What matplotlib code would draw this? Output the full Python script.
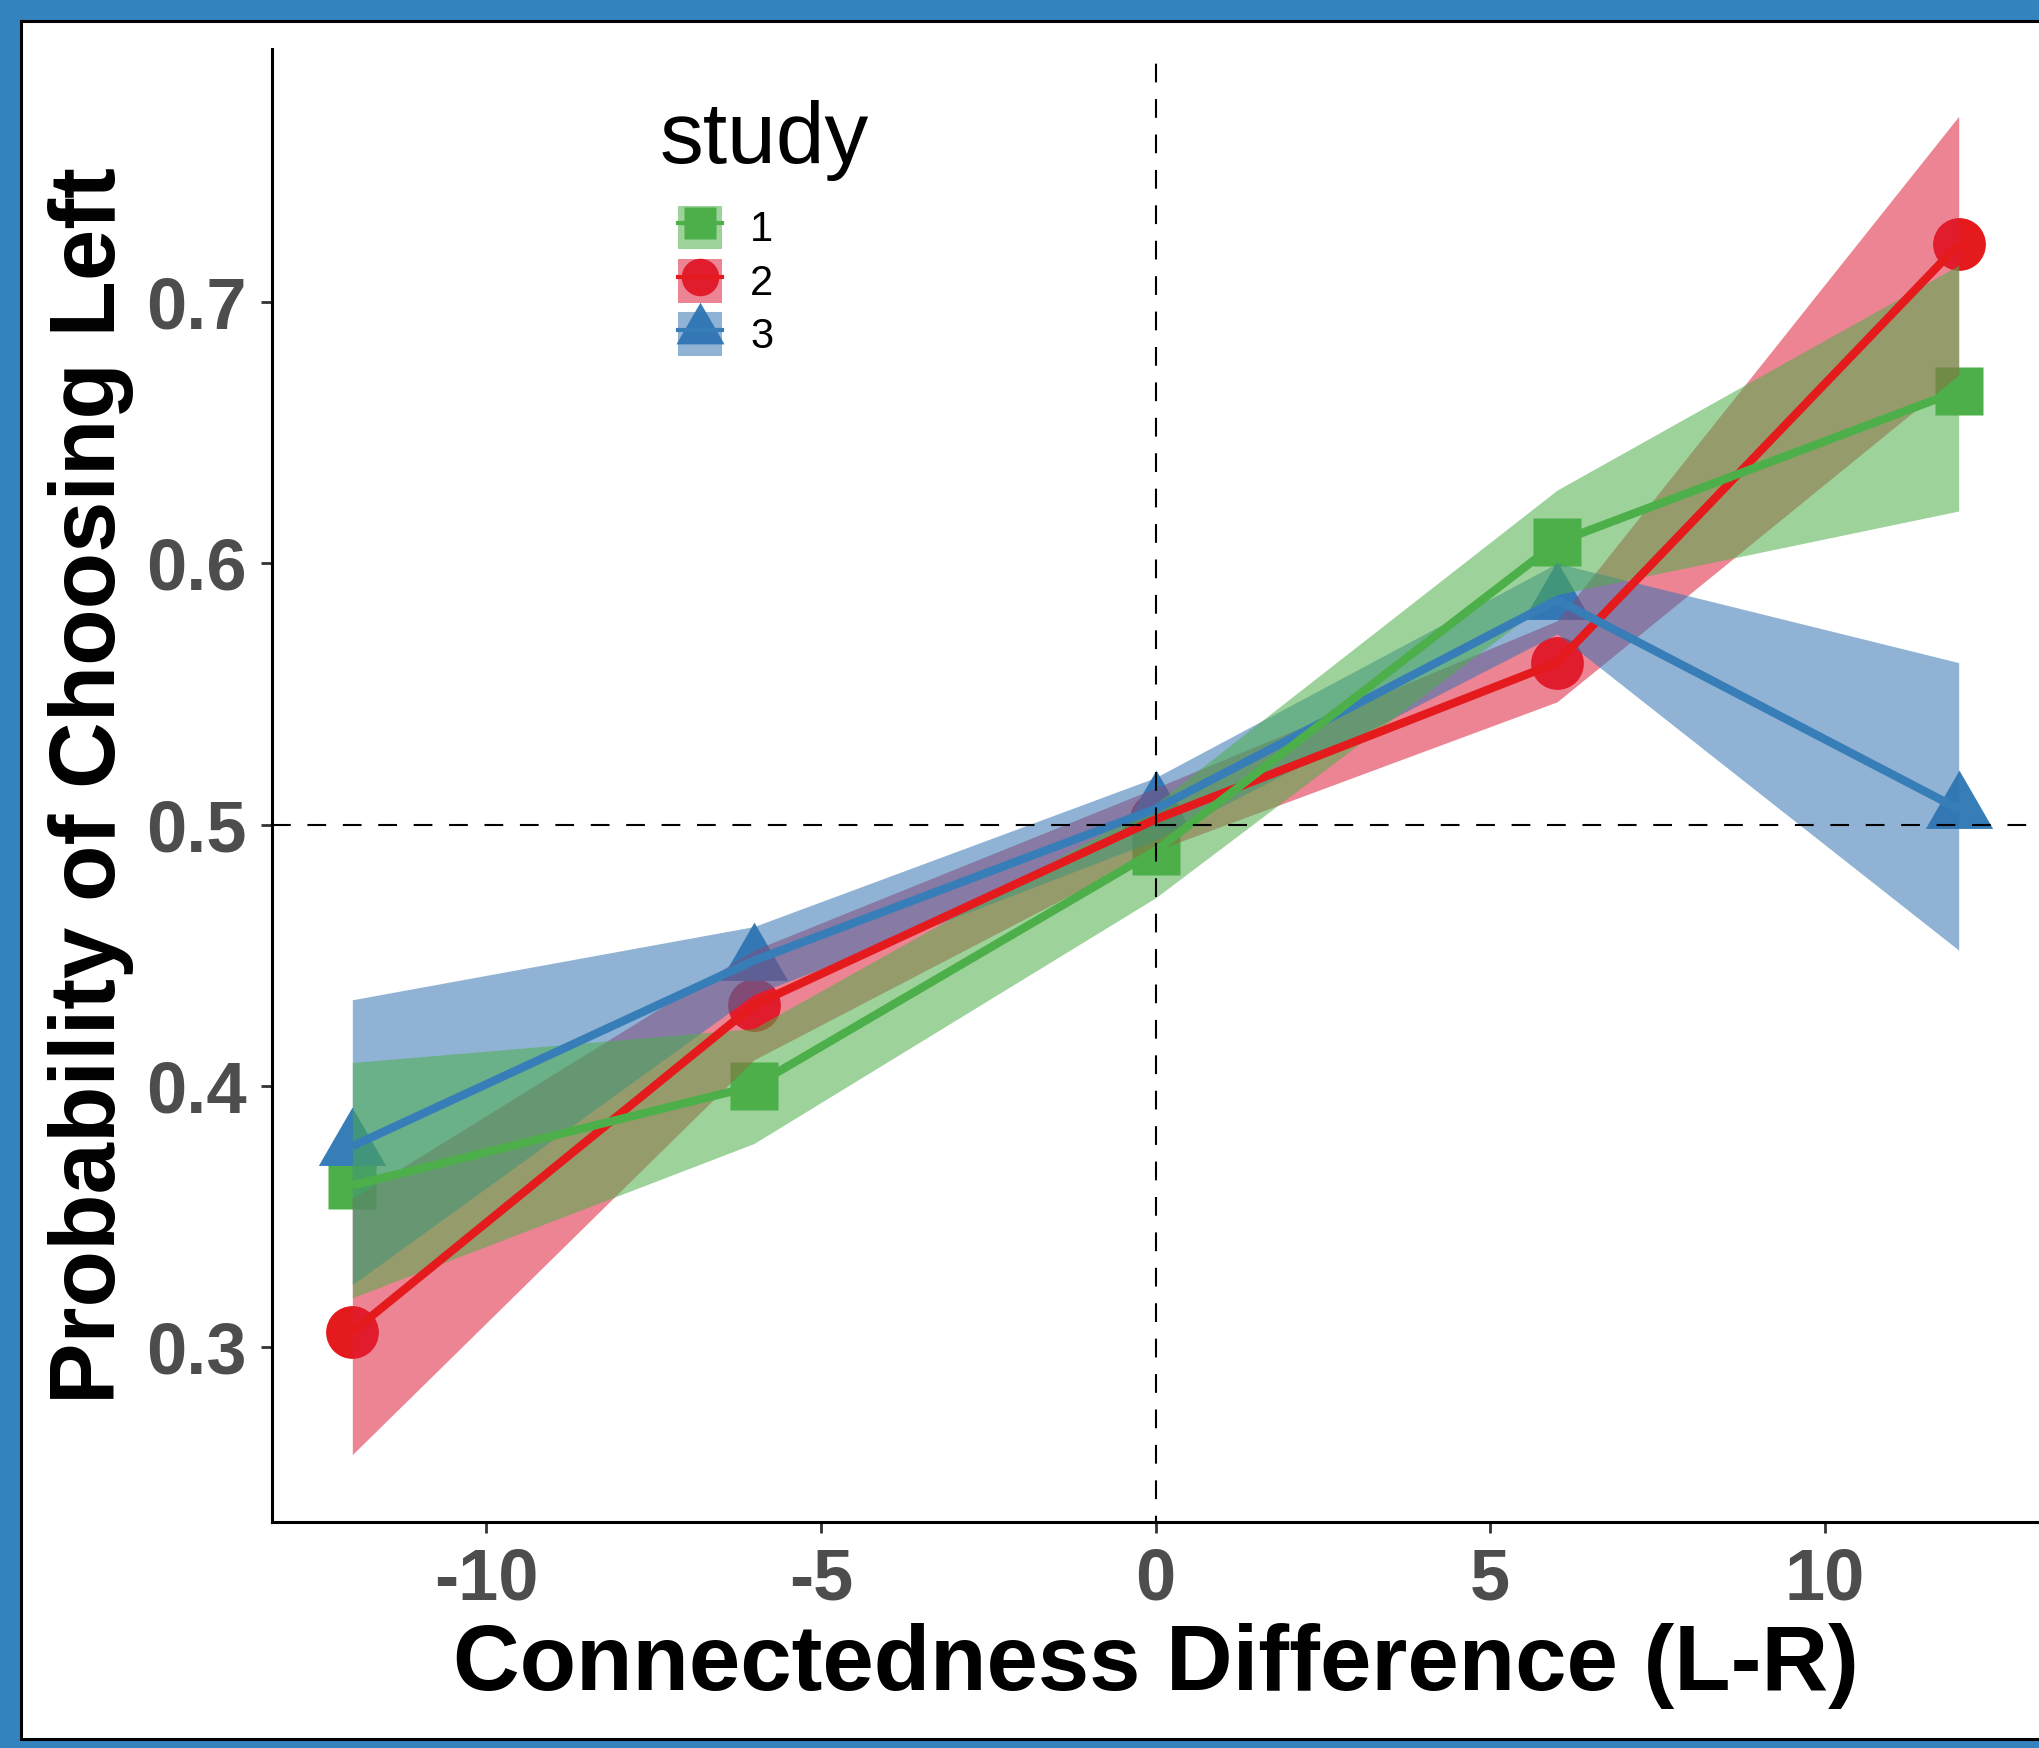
import numpy as np
import matplotlib.pyplot as plt
from matplotlib.patches import Rectangle, Patch
from matplotlib.lines import Line2D

plt.rcParams['font.family'] = ['Liberation Sans', 'DejaVu Sans']

# data
x_vals = [-12, -6, 0, 6, 12]
studies = ["1", "2", "3"]

study1_mean = [0.362, 0.400, 0.490, 0.608, 0.666]
study1_lo = [0.319, 0.378, 0.472, 0.588, 0.620]
study1_hi = [0.409, 0.422, 0.508, 0.628, 0.714]

study2_mean = [0.306, 0.431, 0.502, 0.562, 0.722]
study2_lo = [0.259, 0.410, 0.490, 0.547, 0.672]
study2_hi = [0.357, 0.452, 0.514, 0.578, 0.771]

study3_mean = [0.377, 0.448, 0.506, 0.586, 0.506]
study3_lo = [0.324, 0.435, 0.494, 0.573, 0.452]
study3_hi = [0.433, 0.461, 0.518, 0.600, 0.562]

x_ticks = [-10, -5, 0, 5, 10]
y_ticks = [0.3, 0.4, 0.5, 0.6, 0.7]

line_colors = {"1": "#4DAF4A", "2": "#E41A1C", "3": "#377EB8"}
fill_colors = {"1": "#4DAF4A", "2": "#DF1F3A", "3": "#3373B3"}
tri = [(-1, -0.5774), (1, -0.5774), (0, 1.1547)]
markers = {"1": ("s", 35), "2": ("o", 38), "3": (tri, 56)}
legend_ms = {"1": 23, "2": 27, "3": 40}

data = {
    "1": (study1_mean, study1_lo, study1_hi),
    "2": (study2_mean, study2_lo, study2_hi),
    "3": (study3_mean, study3_lo, study3_hi),
}

W, H = 2039, 1748
fig = plt.figure(figsize=(W / 100, H / 100), dpi=100)
fig.patch.set_facecolor("#3383BE")
fig.add_artist(Rectangle((21 / W, 1 - 1739 / H), 1.1, (1739 - 21) / H,
                         transform=fig.transFigure, facecolor="white",
                         edgecolor="black", lw=2.2, zorder=0))

ax = fig.add_axes([272 / W, 1 - 1521.5 / H, 1 - 272 / W, (1521.5 - 49.4) / H])
ax.patch.set_alpha(0)

# points first, then ribbons over them, then lines (like the ggplot layers)
for i, s in enumerate(["2", "1", "3"]):
    m, ms = markers[s]
    ax.plot(x_vals, data[s][0], ls="none", marker=m, ms=ms,
            color=line_colors[s], mec="none", zorder=2 + i * 0.1)
for i, s in enumerate(["2", "3", "1"]):
    ax.fill_between(x_vals, data[s][1], data[s][2], color=fill_colors[s],
                    alpha=0.55, lw=0, zorder=3 + i * 0.1)
for i, s in enumerate(["2", "3", "1"]):
    ax.plot(x_vals, data[s][0], color=line_colors[s], lw=6,
            solid_capstyle="butt", zorder=4 + i * 0.1)

ax.axvline(0, color="black", lw=1.5, ls=(6, (9, 8)), zorder=5)
ax.axhline(0.5, color="black", lw=1.5, ls=(0, (9, 8)), zorder=5)

ax.set_xlim(-13.2, 13.2)
ax.set_ylim(0.2334, 0.7966)
ax.set_xticks(x_ticks)
ax.set_xticklabels([str(t) for t in x_ticks])
ax.set_yticks(y_ticks)
ax.set_yticklabels(["%.1f" % t for t in y_ticks])

for side in ["top", "right"]:
    ax.spines[side].set_visible(False)
for side in ["left", "bottom"]:
    ax.spines[side].set_linewidth(2.2)
    ax.spines[side].set_color("black")
ax.tick_params(axis="both", length=8, width=2, color="#333333",
               labelsize=52, labelcolor="#4D4D4D", pad=10)
for lab in ax.get_xticklabels() + ax.get_yticklabels():
    lab.set_fontweight("bold")

ax.set_xlabel("Connectedness Difference (L-R)", fontsize=66.5,
              fontweight="bold", labelpad=6)
ax.set_ylabel("Probability of Choosing Left", fontsize=66.5,
              fontweight="bold", labelpad=9)

# legend: title as plain text, keys indented a bit like ggplot
fig.text(660 / W, 1 - 163 / H, "study", fontsize=63, ha="left", va="baseline")
handles = []
for s in studies:
    m, _ = markers[s]
    handles.append((
        Line2D([], [], ls="none", marker=m, ms=legend_ms[s],
               color=line_colors[s], mec="none"),
        Patch(facecolor=fill_colors[s], alpha=0.55, edgecolor="none"),
        Line2D([], [], color=line_colors[s], lw=3),
    ))
leg = ax.legend(handles, studies, loc="upper left",
                bbox_to_anchor=(677.5 / W, 1 - 205.5 / H),
                bbox_transform=fig.transFigure, frameon=False,
                fontsize=30, handlelength=1.06,
                handleheight=1.24, labelspacing=0.2, handletextpad=0.68,
                borderpad=0, borderaxespad=0)

fig.savefig("out.png", dpi=100, facecolor=fig.get_facecolor())
